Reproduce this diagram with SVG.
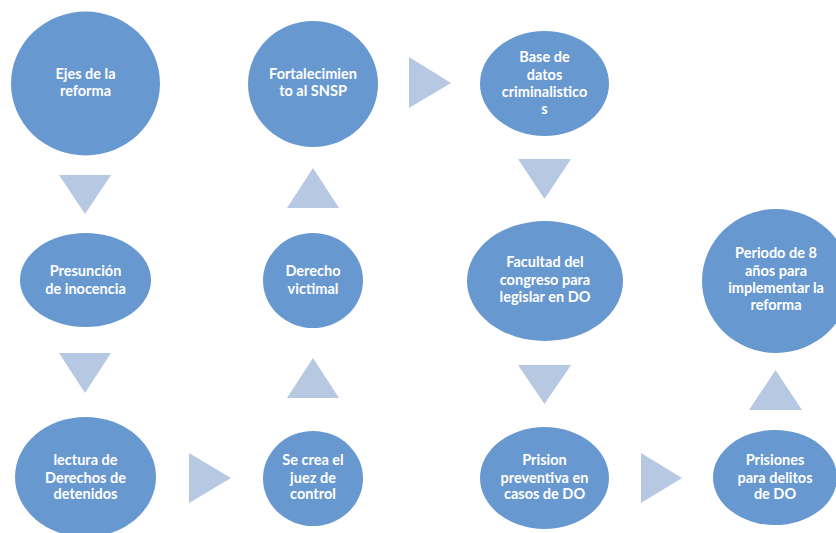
<svg xmlns="http://www.w3.org/2000/svg" width="836" height="533" viewBox="0 0 836 533">
<style>
.n{fill:#6898D0}
.a{fill:#B7C8E3}
text{font-family:Lato,"Open Sans","Liberation Sans",sans-serif;font-weight:bold;font-size:14.5px;fill:#fff;text-anchor:middle}
</style>
<rect width="836" height="533" fill="#fff"/>
<g id="connectors">
<polygon class="a" points="59,175 111,175 85,214"/>
<polygon class="a" points="59,353 111,353 85,393"/>
<polygon class="a" points="189,453 189,503 231,478"/>
<polygon class="a" points="287,398 339,398 313,358"/>
<polygon class="a" points="287,208 339,208 313,168"/>
<polygon class="a" points="409,57 409,108 451,83"/>
<polygon class="a" points="518,159 571,159 544.5,199"/>
<polygon class="a" points="518,365 571,365 544.5,404"/>
<polygon class="a" points="641,453 641,503 682,478"/>
<polygon class="a" points="749,410 802,410 775.5,370"/>
</g>
<g id="n1"><ellipse class="n" cx="85.5" cy="83.5" rx="74.5" ry="72"/><text x="85.5" y="79">Ejes de la</text><text x="85.5" y="96">reforma</text></g>
<g id="n2"><ellipse class="n" cx="85.5" cy="280" rx="65.5" ry="47"/><text x="85.5" y="276">Presunción</text><text x="85.5" y="294">de inocencia</text></g>
<g id="n3"><ellipse class="n" cx="85.5" cy="477" rx="70.5" ry="60"/><text x="85.5" y="465">lectura de</text><text x="85.5" y="483">Derechos de</text><text x="85.5" y="499">detenidos</text></g>
<g id="n4"><ellipse class="n" cx="313" cy="478.5" rx="50" ry="47.5"/><text x="313" y="465">Se crea el</text><text x="313" y="483">juez de</text><text x="313" y="499">control</text></g>
<g id="n5"><ellipse class="n" cx="313" cy="280.5" rx="50" ry="47.5"/><text x="313" y="276">Derecho</text><text x="313" y="294">victimal</text></g>
<g id="n6"><ellipse class="n" cx="313" cy="84" rx="65" ry="63"/><text x="313" y="79">Fortalecimien</text><text x="313" y="96">to al SNSP</text></g>
<g id="n7"><ellipse class="n" cx="544.5" cy="83.5" rx="64.5" ry="52.5"/><text x="544.5" y="62">Base de</text><text x="544.5" y="79.5">datos</text><text x="544.5" y="97">criminalistico</text><text x="544.5" y="114">s</text></g>
<g id="n8"><ellipse class="n" cx="545" cy="281" rx="78" ry="60"/><text x="545" y="267">Facultad del</text><text x="545" y="285">congreso para</text><text x="545" y="302">legislar en DO</text></g>
<g id="n9"><ellipse class="n" cx="544.5" cy="478" rx="64.5" ry="51"/><text x="544.5" y="465">Prision</text><text x="544.5" y="483">preventiva en</text><text x="544.5" y="499">casos de DO</text></g>
<g id="n10"><ellipse class="n" cx="775" cy="477.5" rx="62" ry="47.5"/><text x="775" y="465">Prisiones</text><text x="775" y="483">para delitos</text><text x="775" y="499">de DO</text></g>
<g id="n11"><ellipse class="n" cx="776" cy="281" rx="74" ry="72"/><text x="776" y="258">Periodo de 8</text><text x="776" y="276">años para</text><text x="776" y="293">implementar la</text><text x="776" y="310">reforma</text></g>
</svg>
